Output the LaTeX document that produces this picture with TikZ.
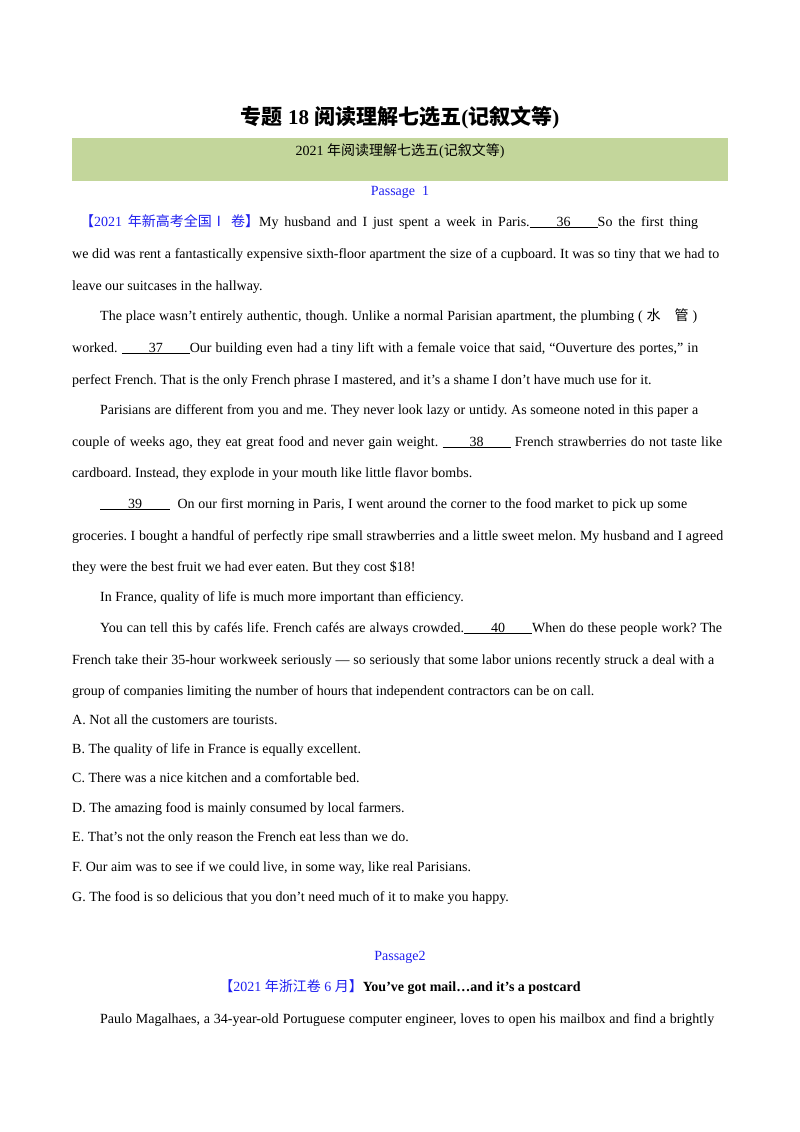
\documentclass[tikz,border=0pt]{standalone}
\usepackage{fontspec}
\setmainfont{Liberation Serif}
\newfontfamily\cjk{Noto Sans CJK SC}
\definecolor{hdr}{HTML}{C3D69B}
\definecolor{pblue}{HTML}{2020F0}
\frenchspacing
\newcommand{\bl}[2]{\underline{\makebox[#2][c]{#1}}}
\newcommand{\plainln}[4]{\node[txt] (#1) at (#2,-#3-5) {#4};}
\newcommand{\spreadln}[5]{\node[txt] (#1) at (#2,-#3-5) {\makebox[#4pt][s]{#5}};}
\begin{document}
\begin{tikzpicture}[x=1pt,y=1pt,
  txt/.style={anchor=base west,inner sep=0pt,font=\fontsize{14}{16}\selectfont}]
\useasboundingbox (0,0) rectangle (800,-1132);
\fill[white] (0,0) rectangle (800,-1132);
\node[font=\fontsize{21}{24}\selectfont\bfseries,inner sep=0pt] (title) at (400,-118) {{\cjk\bfseries 专题} 18 {\cjk\bfseries 阅读理解七选五}({\cjk\bfseries 记叙文等})};
\fill[hdr] (72,-138) rectangle (728,-181);
\node[font=\fontsize{14}{16}\selectfont,inner sep=0pt] (sub) at (400,-151) {2021 {\cjk 年阅读理解七选五}({\cjk 记叙文等})};
\node[font=\fontsize{14}{16}\selectfont,inner sep=0pt,text=pblue] (p1) at (400,-192) {Passage\ \ 1};
\spreadln{l1}{80}{221}{618}{\textcolor{pblue}{{\cjk 【}2021 {\cjk 年新高考全国Ⅰ\ 卷】}}My husband and I just spent a week in Paris.\bl{36}{68pt}So the first thing}
\spreadln{l2}{72}{253}{647}{we did was rent a fantastically expensive sixth-floor apartment the size of a cupboard. It was so tiny that we had to}
\plainln{l3}{72}{285}{leave our suitcases in the hallway.}
\spreadln{l4}{100}{315}{597}{The place wasn’t entirely authentic, though. Unlike a normal Parisian apartment, the plumbing ( {\cjk 水\quad 管} )}
\spreadln{l5}{72}{347}{626}{worked. \bl{37}{68pt}Our building even had a tiny lift with a female voice that said, “Ouverture des portes,” in}
\plainln{l6}{72}{379}{perfect French. That is the only French phrase I mastered, and it’s a shame I don’t have much use for it.}
\spreadln{l7}{100}{409}{598}{Parisians are different from you and me. They never look lazy or untidy. As someone noted in this paper a}
\spreadln{l8}{72}{441}{650}{couple of weeks ago, they eat great food and never gain weight. \bl{38}{68pt} French strawberries do not taste like}
\plainln{l9}{72}{472}{cardboard. Instead, they explode in your mouth like little flavor bombs.}
\spreadln{l10}{100}{503}{587}{\bl{39}{70pt}\ \ On our first morning in Paris, I went around the corner to the food market to pick up some}
\spreadln{l11}{72}{535}{651}{groceries. I bought a handful of perfectly ripe small strawberries and a little sweet melon. My husband and I agreed}
\plainln{l12}{72}{566}{they were the best fruit we had ever eaten. But they cost \$18!}
\plainln{l13}{100}{596}{In France, quality of life is much more important than efficiency.}
\spreadln{l14}{100}{627}{622}{You can tell this by cafés life. French cafés are always crowded.\bl{40}{68pt}When do these people work? The}
\spreadln{l15}{72}{659}{642}{French take their 35-hour workweek seriously — so seriously that some labor unions recently struck a deal with a}
\plainln{l16}{72}{690}{group of companies limiting the number of hours that independent contractors can be on call.}
\plainln{oA}{72}{719}{A. Not all the customers are tourists.}
\plainln{oB}{72}{748}{B. The quality of life in France is equally excellent.}
\plainln{oC}{72}{777}{C. There was a nice kitchen and a comfortable bed.}
\plainln{oD}{72}{807}{D. The amazing food is mainly consumed by local farmers.}
\plainln{oE}{72}{836}{E. That’s not the only reason the French eat less than we do.}
\plainln{oF}{72}{866}{F. Our aim was to see if we could live, in some way, like real Parisians.}
\plainln{oG}{72}{896}{G. The food is so delicious that you don’t need much of it to make you happy.}
\node[font=\fontsize{14}{16}\selectfont,inner sep=0pt,text=pblue] (p2) at (400,-957) {Passage2};
\node[font=\fontsize{14}{16}\selectfont,inner sep=0pt] (h2) at (400,-987) {\textcolor{pblue}{{\cjk 【}2021 {\cjk 年浙江卷} 6 {\cjk 月】}}\textbf{You've got mail…and it's a postcard}};
\spreadln{l17}{100}{1018}{614}{Paulo Magalhaes, a 34-year-old Portuguese computer engineer, loves to open his mailbox and find a brightly}
\end{tikzpicture}
\end{document}
